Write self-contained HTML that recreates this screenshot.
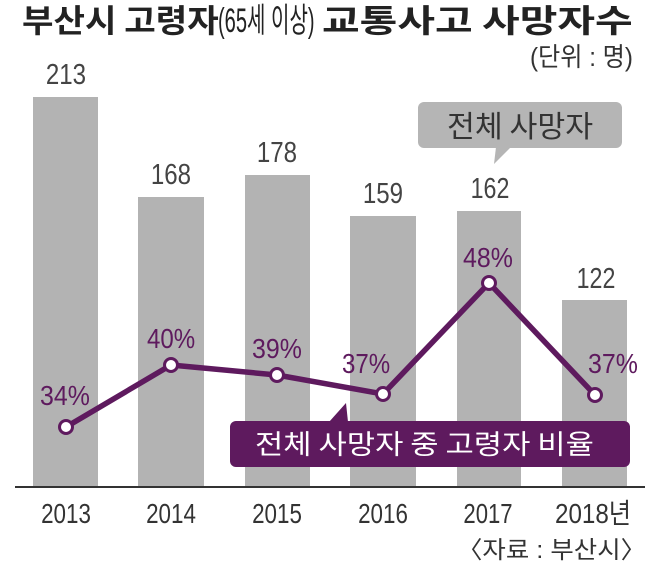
<!DOCTYPE html>
<html><head><meta charset="utf-8">
<style>
html,body{margin:0;padding:0;background:#fff;}
svg{display:block;}
text{font-family:"Liberation Sans","Noto Sans CJK KR",sans-serif;}
.kr{font-family:"Noto Sans CJK KR","Liberation Sans",sans-serif;}
</style></head>
<body>
<svg width="660" height="562" viewBox="0 0 660 562" xmlns="http://www.w3.org/2000/svg">
<rect width="660" height="562" fill="#fff"/>
<!-- title -->
<text class="kr" transform="translate(22,32) scale(1.07,1)" font-size="32" font-weight="bold" fill="#222">부산시 고령자</text>
<text transform="translate(218,32) scale(0.59,1)" font-size="34" fill="#222">(65세 이상)</text>
<text class="kr" transform="translate(322,32) scale(1.28,1)" font-size="32" font-weight="bold" fill="#222">교통사고 사망자수</text>
<text transform="translate(530,66) scale(0.93,1)" font-size="26" fill="#333">(단위 : 명)</text>

<!-- bars -->
<g fill="#b3b3b3">
<rect x="33" y="97" width="65" height="390"/>
<rect x="138" y="197" width="66" height="290"/>
<rect x="245" y="175" width="65" height="312"/>
<rect x="350" y="216" width="66" height="271"/>
<rect x="457" y="211" width="64" height="276"/>
<rect x="562" y="300" width="65" height="187"/>
</g>
<!-- bar values -->
<g font-size="29" fill="#444" text-anchor="middle">
<text transform="translate(66,84) scale(0.83,1)">213</text>
<text transform="translate(171,184) scale(0.83,1)">168</text>
<text transform="translate(277,162) scale(0.83,1)">178</text>
<text transform="translate(383,203) scale(0.83,1)">159</text>
<text transform="translate(490,198) scale(0.8,1)">162</text>
<text transform="translate(596,288) scale(0.8,1)">122</text>
</g>

<!-- axis -->
<line x1="15" y1="487" x2="645" y2="487" stroke="#333" stroke-width="2"/>

<!-- gray bubble -->
<rect x="418" y="102" width="204" height="46" rx="6" fill="#b5b5b5"/>
<polygon points="496,147 511,147 494,164" fill="#b5b5b5"/>
<text class="kr" transform="translate(447,137) scale(1.01,1)" font-size="30" fill="#333">전체 사망자</text>

<!-- line -->
<polyline points="66,427 171,365 277,375 383,394 489,283 595,395" fill="none" stroke="#5e1a5e" stroke-width="5.5" stroke-linejoin="round"/>
<g fill="#fff" stroke="#5e1a5e" stroke-width="3">
<circle cx="66" cy="427" r="6.5"/>
<circle cx="171" cy="365" r="6.5"/>
<circle cx="277" cy="375" r="6.5"/>
<circle cx="383" cy="394" r="6.5"/>
<circle cx="489" cy="283" r="6.5"/>
<circle cx="595" cy="395" r="6.5"/>
</g>
<!-- percent labels -->
<g font-size="28" fill="#5e1a5e">
<text transform="translate(40,405) scale(0.89,1)">34%</text>
<text transform="translate(147,348) scale(0.86,1)">40%</text>
<text transform="translate(252,358) scale(0.89,1)">39%</text>
<text transform="translate(342,373) scale(0.86,1)">37%</text>
<text transform="translate(463,267) scale(0.89,1)">48%</text>
<text transform="translate(588,373) scale(0.89,1)">37%</text>
</g>

<!-- purple box -->
<rect x="230" y="421" width="400" height="46" rx="6" fill="#5e1a5e"/>
<polygon points="329,422 346,403 348,422" fill="#5e1a5e"/>
<text class="kr" transform="translate(255,454) scale(1.14,1)" font-size="27" fill="#fff">전체 사망자 중 고령자 비율</text>

<!-- years -->
<g font-size="28" fill="#333" text-anchor="middle">
<text transform="translate(66,523) scale(0.8,1)">2013</text>
<text transform="translate(171,523) scale(0.8,1)">2014</text>
<text transform="translate(277,523) scale(0.8,1)">2015</text>
<text transform="translate(383,523) scale(0.8,1)">2016</text>
<text transform="translate(488,523) scale(0.79,1)">2017</text>
</g>
<text transform="translate(555,523) scale(0.864,1)" font-size="28" fill="#333">2018년</text>
<text transform="translate(457,558) scale(1.06,1)" font-size="24" fill="#333">〈자료 : 부산시〉</text>
</svg>
</body></html>
